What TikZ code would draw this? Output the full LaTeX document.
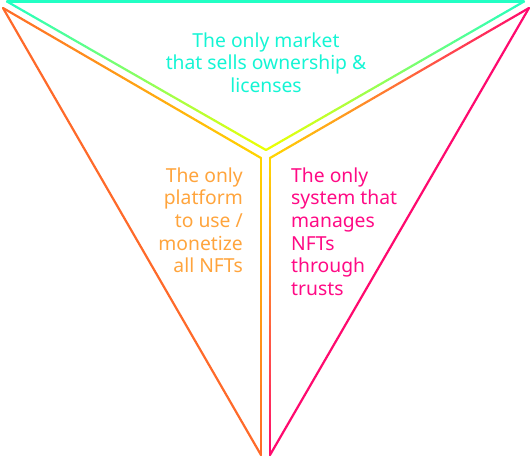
\documentclass[tikz,border=0pt]{standalone}
\usepackage{fontspec}
\setmainfont{Noto Sans}
\usetikzlibrary{calc}
\definecolor{topOut}{HTML}{22FFC4}
\definecolor{topIn}{HTML}{EEFF00}
\definecolor{leftOut}{HTML}{FF6A2A}
\definecolor{leftIn}{HTML}{FFD500}
\definecolor{rightOut}{HTML}{FF0A6E}
\definecolor{rightIn}{HTML}{FFD800}
\definecolor{topText}{HTML}{14F5D4}
\definecolor{leftText}{HTML}{FFA43C}
\definecolor{rightText}{HTML}{FF0A85}
\tikzset{
  edge/.style={line width=2.2pt, line cap=round, line join=round},
  blocktext/.style={inner sep=0pt, font=\fontsize{19.3}{22.7}\selectfont}
}
% gradient line: #1 start, #2 end, #3 start colour, #4 end colour
\newcommand\gradline[4]{%
  \foreach \i in {1,...,30}{%
    \pgfmathsetmacro\pa{(\i-1)/30}%
    \pgfmathsetmacro\pb{\i/30}%
    \pgfmathtruncatemacro\pc{100-(\i-0.5)*100/30}%
    \draw[edge, color=#3!\pc!#4] ($(#1)!\pa!(#2)$) -- ($(#1)!\pb!(#2)$);
  }%
}
\begin{document}
\begin{tikzpicture}[x=1pt, y=-1pt]
\useasboundingbox (0,0) rectangle (531,459);
% top triangle
\coordinate (TL) at (7,1.5);
\coordinate (TR) at (524,1.5);
\coordinate (TA) at (266,150);
% left triangle
\coordinate (LT) at (3,8);
\coordinate (LI) at (261,158);
\coordinate (LB) at (261,455);
% right triangle
\coordinate (RT) at (529,8);
\coordinate (RI) at (270,158);
\coordinate (RB) at (270,455);

\draw[edge, topOut] (TL) -- (TR);
\gradline{TR}{TA}{topOut}{topIn}
\gradline{TA}{TL}{topIn}{topOut}

\draw[edge, leftOut] (LB) -- (LT);
\gradline{LT}{LI}{leftOut}{leftIn}
\gradline{LI}{LB}{leftIn}{leftOut}

\draw[edge, rightOut] (RT) -- (RB);
\gradline{RI}{RT}{rightIn}{rightOut}
\gradline{RI}{RB}{rightIn}{rightOut}

\node[blocktext, anchor=base, text=topText] (ttop) at (266,47)
  {\begin{tabular}[t]{@{}c@{}}The only market\\that sells ownership \&\\licenses\end{tabular}};
\node[blocktext, anchor=base east, text=leftText] (tleft) at (243,182)
  {\begin{tabular}[t]{@{}r@{}}The only\\platform\\to use /\\monetize\\all NFTs\end{tabular}};
\node[blocktext, anchor=base west, text=rightText] (tright) at (291,182)
  {\begin{tabular}[t]{@{}l@{}}The only\\system that\\manages\\NFTs\\through\\trusts\end{tabular}};
\end{tikzpicture}
\end{document}
